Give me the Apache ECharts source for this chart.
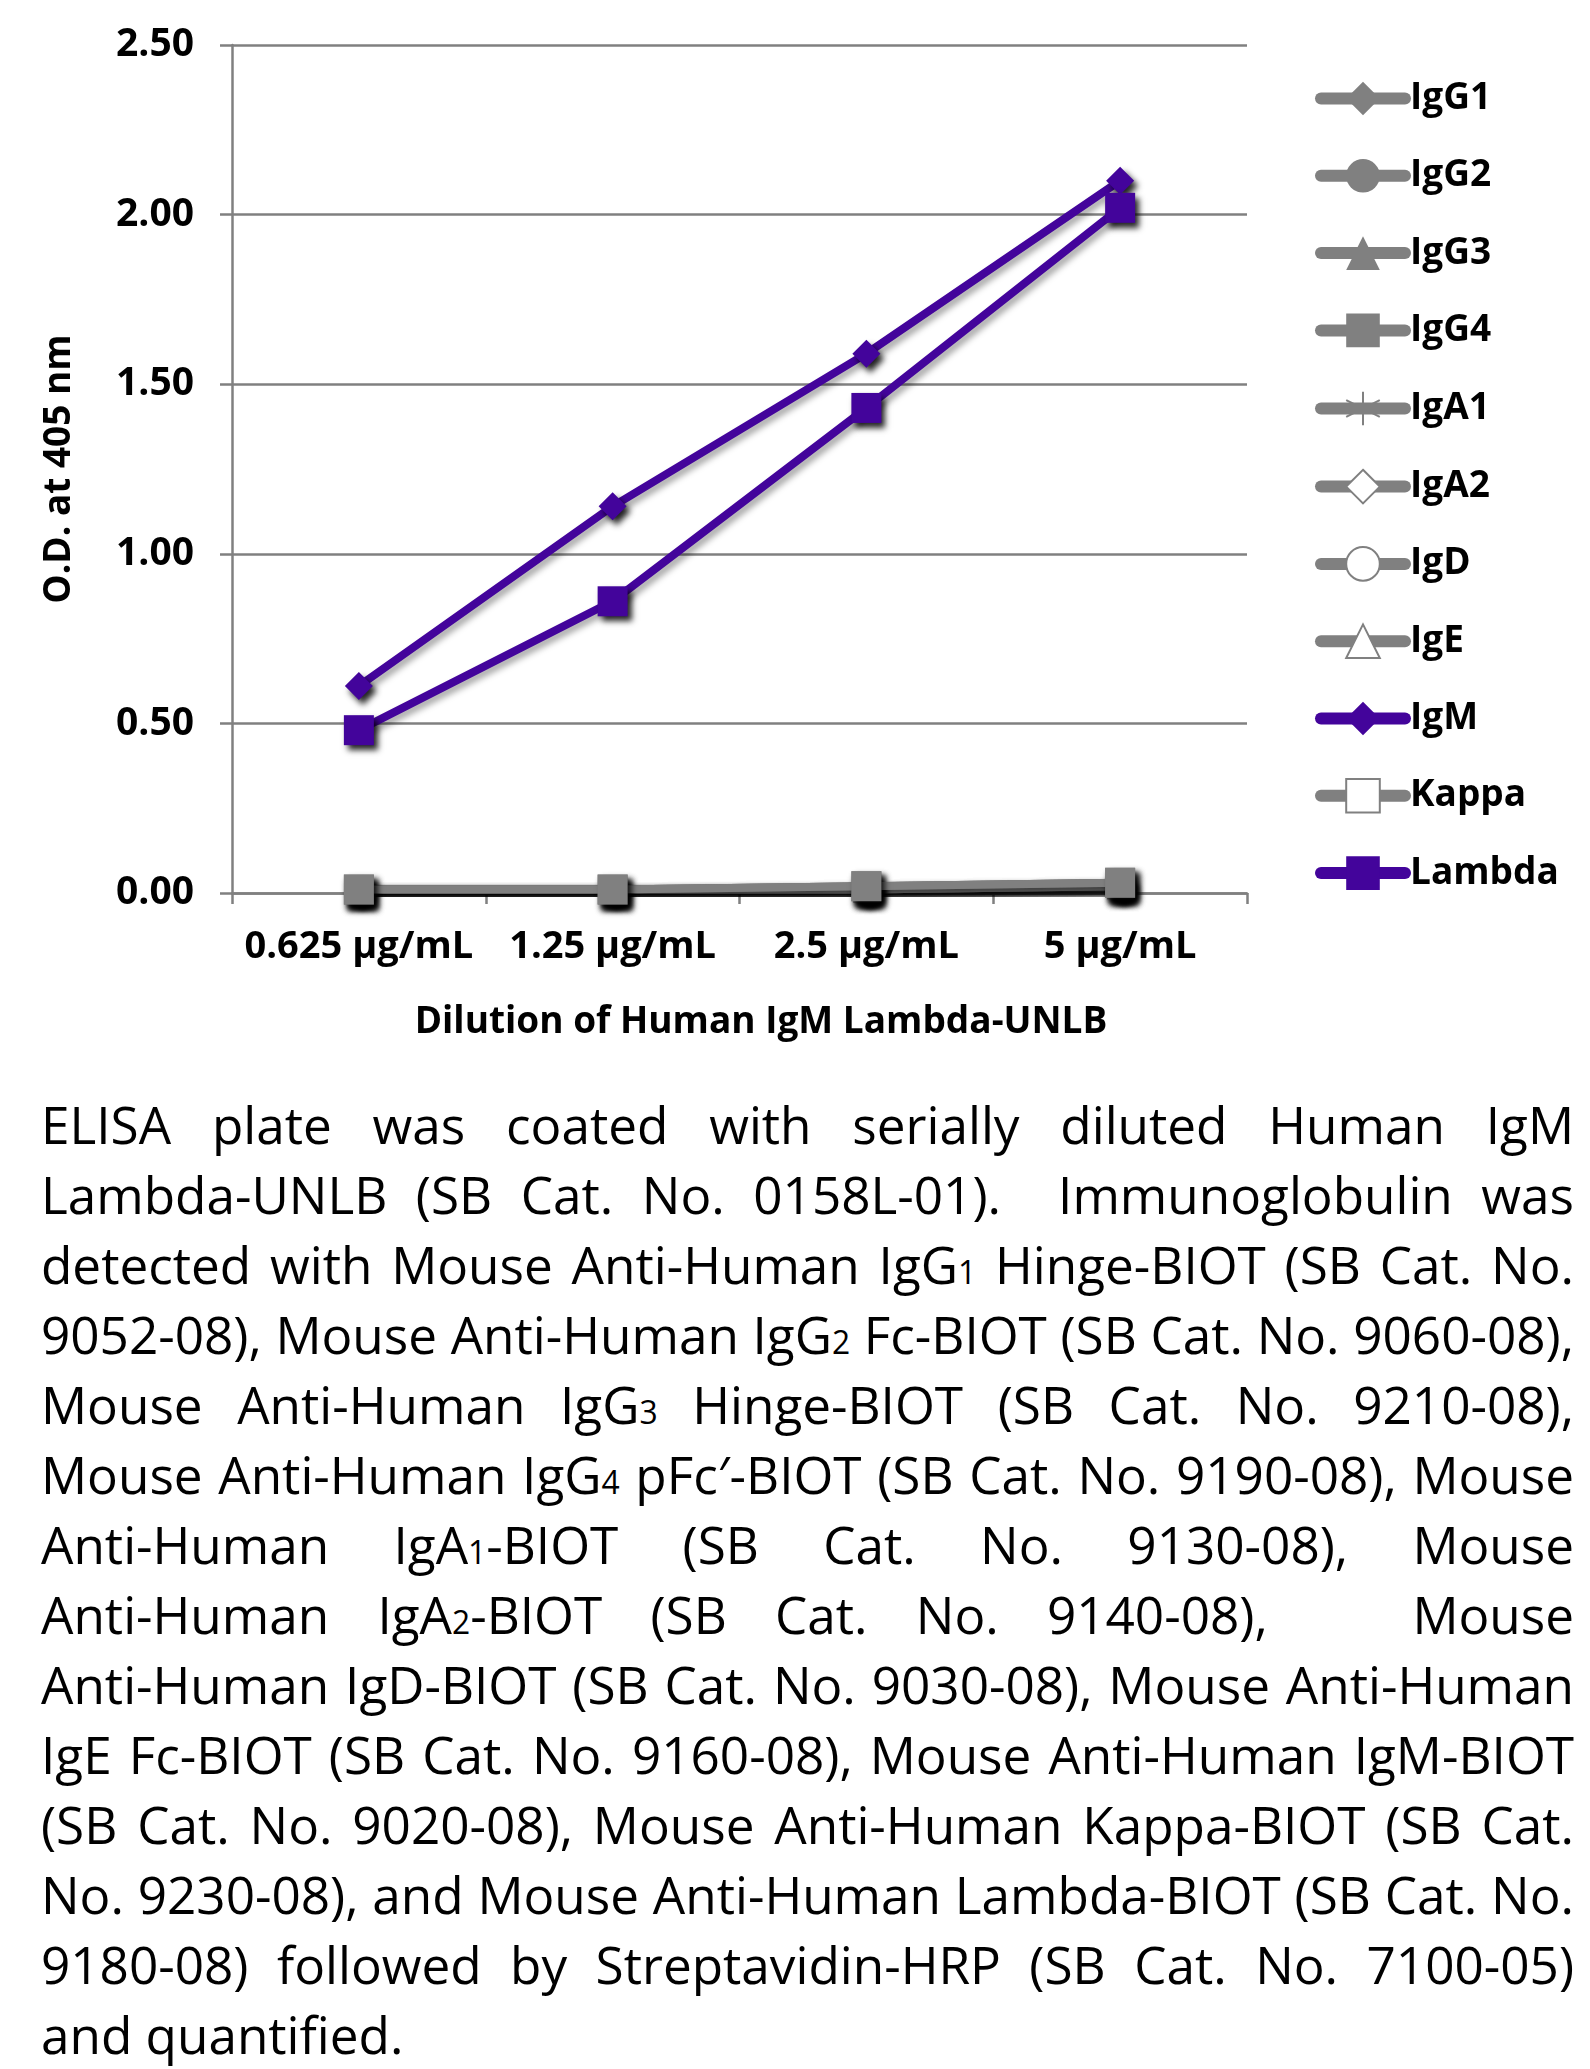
<!DOCTYPE html>
<html>
<head>
<meta charset="utf-8">
<script src="https://cdn.jsdelivr.net/npm/echarts@6/dist/echarts.min.js"></script>
<style>
  html, body { margin: 0; padding: 0; background: #fff; }
  #wrap { position: relative; width: 1590px; height: 2069px; overflow: hidden; background: #fff; }
  #chart { position: absolute; left: 0; top: 0; width: 1590px; height: 1070px; }
  #caption { position: absolute; left: 41px; top: 1089px; transform-origin: 0 0;
    font-family: "Open Sans", "Noto Sans", sans-serif; font-size: 52px; line-height: 70px; color: #000; }
  #caption .ln { display: block; height: 70px; text-align: justify; text-align-last: justify; white-space: normal; }
  #caption .ln.last { text-align: left; text-align-last: left; }
  .s { font-size: 0.62em; line-height: 0; }
  #measure { position: absolute; visibility: hidden; white-space: nowrap;
    font-family: "Open Sans", "Noto Sans", sans-serif; font-size: 52px; }
</style>
</head>
<body>
<div id="wrap">
  <div id="chart"></div>
  <div id="caption"></div>
  <span id="measure"></span>
</div>
<script>
// ---- data ----
const categories = ['0.625 µg/mL', '1.25 µg/mL', '2.5 µg/mL', '5 µg/mL'];
const seriesNames = ['IgG1', 'IgG2', 'IgG3', 'IgG4', 'IgA1', 'IgA2', 'IgD', 'IgE', 'IgM', 'Kappa', 'Lambda'];
const igG1 = [0.01, 0.01, 0.02, 0.03];
const igG2 = [0.01, 0.01, 0.01, 0.02];
const igG3 = [0.01, 0.01, 0.01, 0.02];
const igG4 = [0.01, 0.01, 0.02, 0.03];
const igA1 = [0.01, 0.01, 0.01, 0.02];
const igA2 = [0.01, 0.01, 0.01, 0.02];
const igD = [0.01, 0.01, 0.01, 0.02];
const igE = [0.01, 0.01, 0.01, 0.02];
const igM = [0.61, 1.14, 1.59, 2.10];
const kappa = [0.01, 0.01, 0.02, 0.03];
const lambda = [0.48, 0.86, 1.43, 2.02];
const yMin = 0, yMax = 2.5, yInterval = 0.5;
const yAxisTitle = 'O.D. at 405 nm';
const xAxisTitle = 'Dilution of Human IgM Lambda-UNLB';
const captionLines = [
  'ELISA plate was coated with serially diluted Human IgM',
  'Lambda-UNLB (SB Cat. No. 0158L-01).&nbsp; Immunoglobulin was',
  'detected with Mouse Anti-Human IgG<span class="s">1</span> Hinge-BIOT (SB Cat. No.',
  '9052-08), Mouse Anti-Human IgG<span class="s">2</span> Fc-BIOT (SB Cat. No. 9060-08),',
  'Mouse Anti-Human IgG<span class="s">3</span> Hinge-BIOT (SB Cat. No. 9210-08),',
  'Mouse Anti-Human IgG<span class="s">4</span> pFc′-BIOT (SB Cat. No. 9190-08), Mouse',
  'Anti-Human IgA<span class="s">1</span>-BIOT (SB Cat. No. 9130-08), Mouse',
  'Anti-Human IgA<span class="s">2</span>-BIOT (SB Cat. No. 9140-08),&nbsp;&nbsp; Mouse',
  'Anti-Human IgD-BIOT (SB Cat. No. 9030-08), Mouse Anti-Human',
  'IgE Fc-BIOT (SB Cat. No. 9160-08), Mouse Anti-Human IgM-BIOT',
  '(SB Cat. No. 9020-08), Mouse Anti-Human Kappa-BIOT (SB Cat.',
  'No. 9230-08), and Mouse Anti-Human Lambda-BIOT (SB Cat. No.',
  '9180-08) followed by Streptavidin-HRP (SB Cat. No. 7100-05)',
  'and quantified.'
];

// ---- styling ----
const GRAY = '#808080';
const PURPLE = '#43049B';
const FONT = '"Open Sans", "Noto Sans", sans-serif';
const asterisk = 'path://M10,0 L10,20 M1,5 L19,15 M1,15 L19,5';

const seriesData = [igG1, igG2, igG3, igG4, igA1, igA2, igD, igE, igM, kappa, lambda];
const symbols = ['diamond', 'circle', 'triangle', 'rect', asterisk, 'emptyDiamond', 'emptyCircle', 'emptyTriangle', 'diamond', 'emptyRect', 'rect'];
const colors = [GRAY, GRAY, GRAY, GRAY, GRAY, GRAY, GRAY, GRAY, PURPLE, GRAY, PURPLE];
const symbolSizes = [26, 24, 26, 30, 24, 24, 24, 24, 28, 28, 30];
const zOrder = [2, 2, 2, 4, 2, 2, 2, 2, 6, 3, 7];

const series = seriesNames.map((name, i) => ({
  name: name,
  type: 'line',
  data: seriesData[i],
  symbol: symbols[i],
  symbolSize: symbolSizes[i],
  showAllSymbol: true,
  z: zOrder[i],
  color: colors[i],
  lineStyle: {
    width: 8, color: colors[i],
    shadowColor: 'rgba(0,0,0,0.35)', shadowBlur: 6, shadowOffsetX: 4, shadowOffsetY: 4
  },
  itemStyle: {
    color: symbols[i] === asterisk ? 'none' : colors[i],
    borderColor: colors[i],
    borderWidth: (symbols[i].indexOf && symbols[i].indexOf('empty') === 0) || symbols[i] === asterisk ? 2 : 0,
    shadowColor: 'rgba(0,0,0,0.85)', shadowBlur: 6, shadowOffsetX: 4, shadowOffsetY: 5
  },
  emphasis: { disabled: true },
  animation: false
}));

const chart = echarts.init(document.getElementById('chart'), null, { renderer: 'canvas' });
chart.setOption({
  backgroundColor: '#fff',
  animation: false,
  grid: { left: 232, right: 343, top: 45, bottom: 177, containLabel: false },
  legend: {
    orient: 'vertical',
    left: 1310,
    top: 75,
    itemWidth: 84,
    itemHeight: 42,
    itemGap: 40.3,
    data: seriesNames,
    textStyle: { fontFamily: FONT, fontWeight: 'bold', fontSize: 37, color: '#000' },
    itemStyle: { shadowBlur: 0, shadowOffsetX: 0, shadowOffsetY: 0, shadowColor: 'rgba(0,0,0,0)' },
    lineStyle: { width: 12, cap: 'round', shadowBlur: 0, shadowOffsetX: 0, shadowOffsetY: 0, shadowColor: 'rgba(0,0,0,0)' },
    selectedMode: false
  },
  xAxis: {
    type: 'category',
    data: categories,
    boundaryGap: true,
    name: xAxisTitle,
    nameLocation: 'middle',
    nameGap: 111,
    nameTextStyle: { fontFamily: FONT, fontWeight: 'bold', fontSize: 37, color: '#000', padding: [0, 0, 0, 43] },
    axisLine: { show: true, lineStyle: { color: GRAY, width: 2.5 } },
    axisTick: { show: true, alignWithLabel: false, length: 11, lineStyle: { color: GRAY, width: 2.5 } },
    axisLabel: { interval: 0, margin: 35, fontFamily: FONT, fontWeight: 'bold', fontSize: 38, color: '#000' },
    splitLine: { show: false }
  },
  yAxis: {
    type: 'value',
    min: yMin, max: yMax, interval: yInterval,
    name: yAxisTitle,
    nameLocation: 'middle',
    nameGap: 154,
    nameRotate: 90,
    nameTextStyle: { fontFamily: FONT, fontWeight: 'bold', fontSize: 37, color: '#000' },
    axisLine: { show: true, lineStyle: { color: GRAY, width: 2.5 } },
    axisTick: { show: true, length: 12, lineStyle: { color: GRAY, width: 2.5 } },
    axisLabel: { margin: 38, fontFamily: FONT, fontWeight: 'bold', fontSize: 39, color: '#000',
      formatter: v => v.toFixed(2) },
    splitLine: { show: true, lineStyle: { color: GRAY, width: 2.5 } }
  },
  series: series
});

// ---- caption (justified text, condensed to fit) ----
const cap = document.getElementById('caption');
const meas = document.getElementById('measure');
let maxW = 0;
captionLines.forEach(l => {
  meas.innerHTML = l;
  maxW = Math.max(maxW, meas.getBoundingClientRect().width);
});
const targetW = 1533;
const innerW = Math.ceil(maxW) + 2;
cap.style.width = innerW + 'px';
cap.style.transform = 'scaleX(' + (targetW / innerW) + ')';
cap.innerHTML = captionLines.map((l, i) =>
  '<div class="ln' + (i === captionLines.length - 1 ? ' last' : '') + '">' + l + '</div>').join('');
</script>
</body>
</html>
